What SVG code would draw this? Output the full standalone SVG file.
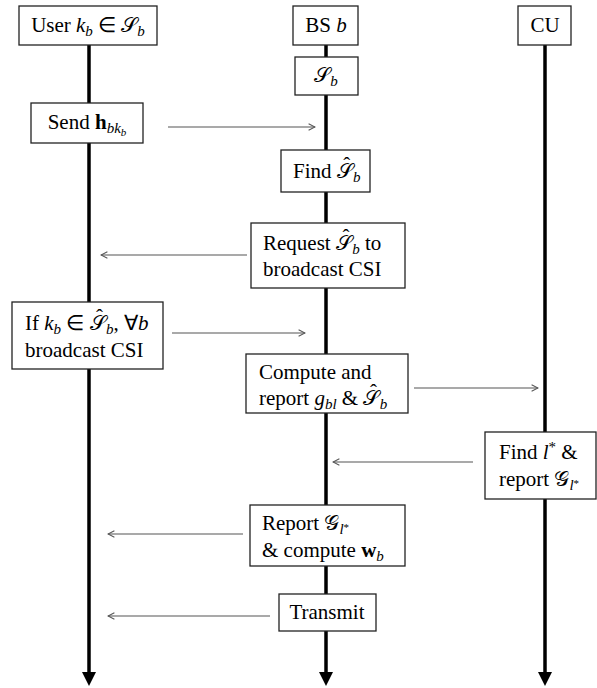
<svg xmlns="http://www.w3.org/2000/svg" width="597" height="688" viewBox="0 0 597 688" font-family="serif">
<defs>
<style>
.box{fill:#fff;stroke:#222;stroke-width:1.3}
.life{stroke:#000;stroke-width:3.5;fill:none}
.msg{stroke:#555;stroke-width:1.2;fill:none;marker-end:url(#open)}
</style>
<marker id="open" viewBox="0 0 10 10" refX="9" refY="5" markerWidth="8" markerHeight="8" markerUnits="userSpaceOnUse" orient="auto">
<path d="M1,1 L9,5 L1,9" fill="none" stroke="#555" stroke-width="1.3"/>
</marker>
</defs>
<rect width="597" height="688" fill="#fff"/>
<g id="connectors">
<line class="life" x1="89" y1="44" x2="89" y2="673"/>
<line class="life" x1="326" y1="44" x2="326" y2="673"/>
<line class="life" x1="545" y1="44" x2="545" y2="673"/>
<path d="M82,672 L96,672 L89,686 Z" fill="#000"/>
<path d="M319,672 L333,672 L326,686 Z" fill="#000"/>
<path d="M538,672 L552,672 L545,686 Z" fill="#000"/>
<line class="msg" x1="168" y1="127" x2="315" y2="127"/>
<line class="msg" x1="247" y1="255" x2="101" y2="255"/>
<line class="msg" x1="172" y1="333" x2="305" y2="333"/>
<line class="msg" x1="414" y1="388" x2="538" y2="388"/>
<line class="msg" x1="473" y1="462" x2="333" y2="462"/>
<line class="msg" x1="243" y1="534" x2="108" y2="534"/>
<line class="msg" x1="270" y1="616" x2="108" y2="616"/>
</g>
<g id="user">
<rect class="box" x="19" y="6" width="138" height="39"/>
<text font-family="Times New Roman" font-size="21" x="88" y="32" text-anchor="middle">User <tspan font-style="italic">k</tspan><tspan font-style="italic" font-size="15" dy="4">b</tspan><tspan dy="-4"> ∈ 𝒮</tspan><tspan font-style="italic" font-size="15" dy="4">b</tspan></text>
</g>
<g id="bs">
<rect class="box" x="293" y="6" width="65" height="39"/>
<text font-family="Times New Roman" font-size="21" x="326" y="32" text-anchor="middle">BS <tspan font-style="italic">b</tspan></text>
</g>
<g id="cu">
<rect class="box" x="518" y="6" width="53" height="39"/>
<text font-family="Times New Roman" font-size="21" x="545" y="32" text-anchor="middle">CU</text>
</g>
<g id="sb">
<rect class="box" x="295" y="57" width="63" height="38"/>
<text font-family="Times New Roman" font-size="21" x="326" y="82" text-anchor="middle">𝒮<tspan font-style="italic" font-size="15" dy="4">b</tspan></text>
</g>
<g id="send">
<rect class="box" x="31" y="103" width="112" height="40"/>
<text font-family="Times New Roman" font-size="21" x="87" y="129" text-anchor="middle">Send <tspan font-weight="bold">h</tspan><tspan font-style="italic" font-size="15" dy="4">bk</tspan><tspan font-style="italic" font-size="11" dy="3">b</tspan></text>
</g>
<g id="find">
<rect class="box" x="281" y="150" width="89" height="42"/>
<text font-family="Times New Roman" font-size="21" x="293" y="178">Find 𝒮<tspan dx="-9.5" dy="-6">ˆ</tspan><tspan font-style="italic" font-size="15" dx="2.8" dy="10">b</tspan></text>
</g>
<g id="request">
<rect class="box" x="251" y="223" width="154" height="65"/>
<text font-family="Times New Roman" font-size="21" x="263" y="250">Request 𝒮<tspan dx="-9.5" dy="-6">ˆ</tspan><tspan font-style="italic" font-size="15" dx="2.8" dy="10">b</tspan><tspan dy="-4"> to</tspan></text>
<text font-family="Times New Roman" font-size="21" x="263" y="276">broadcast CSI</text>
</g>
<g id="ifbox">
<rect class="box" x="12" y="302" width="151" height="67"/>
<text font-family="Times New Roman" font-size="21" x="25" y="330">If <tspan font-style="italic">k</tspan><tspan font-style="italic" font-size="15" dy="4">b</tspan><tspan dy="-4"> ∈ 𝒮</tspan><tspan dx="-9.5" dy="-6">ˆ</tspan><tspan font-style="italic" font-size="15" dx="2.8" dy="10">b</tspan><tspan dy="-4">, ∀</tspan><tspan font-style="italic">b</tspan></text>
<text font-family="Times New Roman" font-size="21" x="25" y="357">broadcast CSI</text>
</g>
<g id="compute">
<rect class="box" x="246" y="354" width="162" height="59"/>
<text font-family="Times New Roman" font-size="21" x="259" y="379">Compute and</text>
<text font-family="Times New Roman" font-size="21" x="259" y="405">report <tspan font-style="italic">g</tspan><tspan font-style="italic" font-size="15" dy="4">bl</tspan><tspan dy="-4"> &amp; 𝒮</tspan><tspan dx="-9.5" dy="-6">ˆ</tspan><tspan font-style="italic" font-size="15" dx="2.8" dy="10">b</tspan></text>
</g>
<g id="findl">
<rect class="box" x="485" y="432" width="111" height="67"/>
<text font-family="Times New Roman" font-size="21" x="499" y="459">Find <tspan font-style="italic">l</tspan><tspan font-size="15" dy="-7">*</tspan><tspan dy="7"> &amp;</tspan></text>
<text font-family="Times New Roman" font-size="21" x="499" y="486">report 𝒢<tspan font-style="italic" font-size="15" dy="4">l</tspan><tspan font-size="11" dy="-3">*</tspan></text>
</g>
<g id="report">
<rect class="box" x="250" y="505" width="155" height="61"/>
<text font-family="Times New Roman" font-size="21" x="262" y="530">Report 𝒢<tspan font-style="italic" font-size="15" dy="4">l</tspan><tspan font-size="11" dy="-3">*</tspan></text>
<text font-family="Times New Roman" font-size="21" x="262" y="557">&amp; compute <tspan font-weight="bold">w</tspan><tspan font-style="italic" font-size="15" dy="4">b</tspan></text>
</g>
<g id="transmit">
<rect class="box" x="279" y="594" width="97" height="37"/>
<text font-family="Times New Roman" font-size="21" x="327" y="619" text-anchor="middle">Transmit</text>
</g>
</svg>
